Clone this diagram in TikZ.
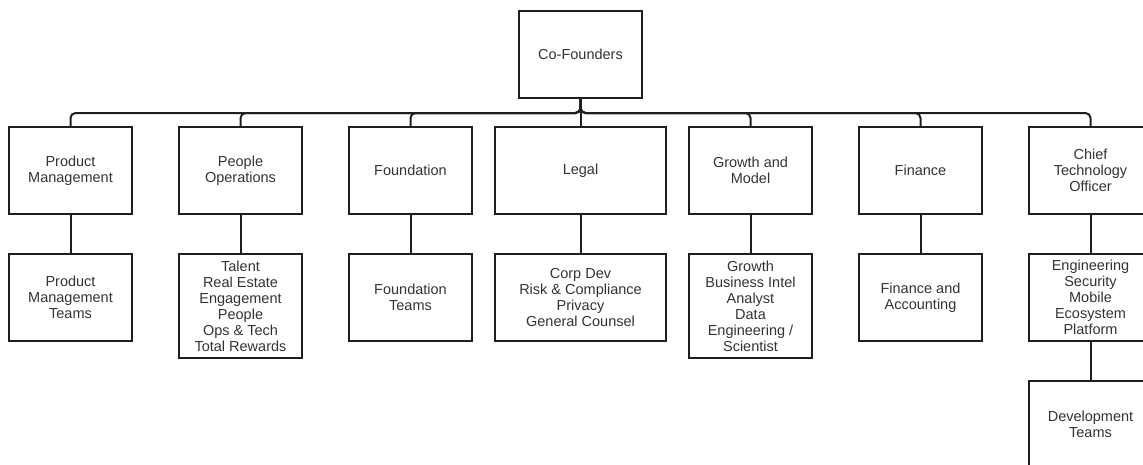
\documentclass[tikz,border=0pt]{standalone}
\usepackage{fontspec}
\setmainfont{Liberation Sans}
\begin{document}
\begin{tikzpicture}[x=1pt,y=-1pt,
  box/.style={draw=black!88, line width=2pt, inner sep=0pt, minimum width=123pt, minimum height=87pt,
    align=center, text=black!80, font=\fontsize{14.5}{16}\selectfont},
  widebox/.style={box, minimum width=171pt},
  tallbox/.style={box, minimum height=104pt},
  link/.style={draw=black!88, line width=2pt, rounded corners=5pt}]
\useasboundingbox (0,0) rectangle (1143,464);
\clip (0,0) rectangle (1143,464);
% top
\node[box, anchor=north] (cof) at (580.5,10) {Co-Founders};
% level 1
\node[box, anchor=north] (pm) at (70.5,126) {Product\\Management};
\node[box, anchor=north] (po) at (240.5,126) {People\\Operations};
\node[box, anchor=north] (fd) at (410.5,126) {Foundation};
\node[widebox, anchor=north] (lg) at (580.5,126) {Legal};
\node[box, anchor=north] (gm) at (750.5,126) {Growth and\\Model};
\node[box, anchor=north] (fi) at (920.5,126) {Finance};
\node[box, anchor=north] (cto) at (1090.5,126) {Chief\\Technology\\Officer};
% level 2
\node[box, anchor=north] (pmt) at (70.5,253) {Product\\Management\\Teams};
\node[tallbox, anchor=north] (pot) at (240.5,253) {Talent\\Real Estate\\Engagement\\People\\Ops \& Tech\\Total Rewards};
\node[box, anchor=north] (fdt) at (410.5,253) {Foundation\\Teams};
\node[widebox, anchor=north] (lgt) at (580.5,253) {Corp Dev\\Risk \& Compliance\\Privacy\\General Counsel};
\node[tallbox, anchor=north] (gmt) at (750.5,253) {Growth\\Business Intel\\Analyst\\Data\\Engineering /\\Scientist};
\node[box, anchor=north] (fit) at (920.5,253) {Finance and\\Accounting};
\node[box, anchor=north] (eng) at (1090.5,253) {Engineering\\Security\\Mobile\\Ecosystem\\Platform};
% level 3
\node[box, anchor=north] (dev) at (1090.5,380) {Development\\Teams};
% connectors
\coordinate (bus) at (580.5,113);
\foreach \c in {pm,po,fd,lg,gm,fi,cto}
  \draw[link] (cof.south) -- (cof.south |- bus) -| (\c.north);
\draw[link] (pm.south) -- (pmt.north);
\draw[link] (po.south) -- (pot.north);
\draw[link] (fd.south) -- (fdt.north);
\draw[link] (lg.south) -- (lgt.north);
\draw[link] (gm.south) -- (gmt.north);
\draw[link] (fi.south) -- (fit.north);
\draw[link] (cto.south) -- (eng.north);
\draw[link] (eng.south) -- (dev.north);
\end{tikzpicture}
\end{document}
